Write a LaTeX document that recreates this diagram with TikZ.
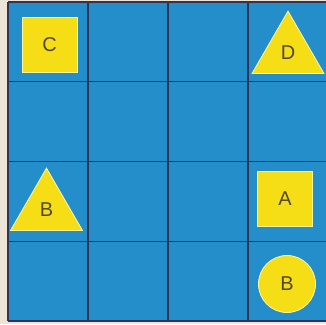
\documentclass[tikz,border=0pt]{standalone}
\usepackage{fontspec}
\setsansfont{Liberation Sans}
\usetikzlibrary{shapes.geometric}

\definecolor{paper}{RGB}{236,228,214}
\definecolor{cellblue}{RGB}{36,142,202}
\definecolor{gridline}{RGB}{52,50,82}
\definecolor{shapeyellow}{RGB}{246,222,22}
\definecolor{labelgray}{RGB}{80,72,48}

\tikzset{
  piece/.style={fill=shapeyellow,draw=shapeyellow!40!white,line width=0.9pt,
    text=labelgray,inner sep=0pt,font=\sffamily\fontsize{20}{20}\selectfont},
  sqpiece/.style={piece,rectangle,minimum size=55pt},
  tripiece/.style={piece,regular polygon,regular polygon sides=3,minimum size=83pt},
  rndpiece/.style={piece,circle,minimum size=57pt},
}

\begin{document}
\begin{tikzpicture}[x=1pt,y=-1pt]
  \useasboundingbox (0,0) rectangle (326,324);
  \fill[paper] (0,0) rectangle (326,324);
  % board
  \fill[cellblue] (8,2) rectangle (328,321);
  \foreach \i in {0,...,4}
    \draw[gridline,line width=1.3pt] ({8+80*\i},2) -- ({8+80*\i},321);
  \foreach \j in {0,...,4}
    \draw[gridline,line width=1.3pt] (8,{2+79.75*\j}) -- (328,{2+79.75*\j});
  % pieces
  \node[sqpiece] (sqC) at (49.5,44.5) {C};
  \node[tripiece] (triD) at (288,52.7) {D};
  \node[tripiece] (triB) at (46.5,209.7) {B};
  \node[sqpiece] (sqA) at (285,199) {A};
  \node[rndpiece] (rndB) at (287,284) {B};
\end{tikzpicture}
\end{document}
